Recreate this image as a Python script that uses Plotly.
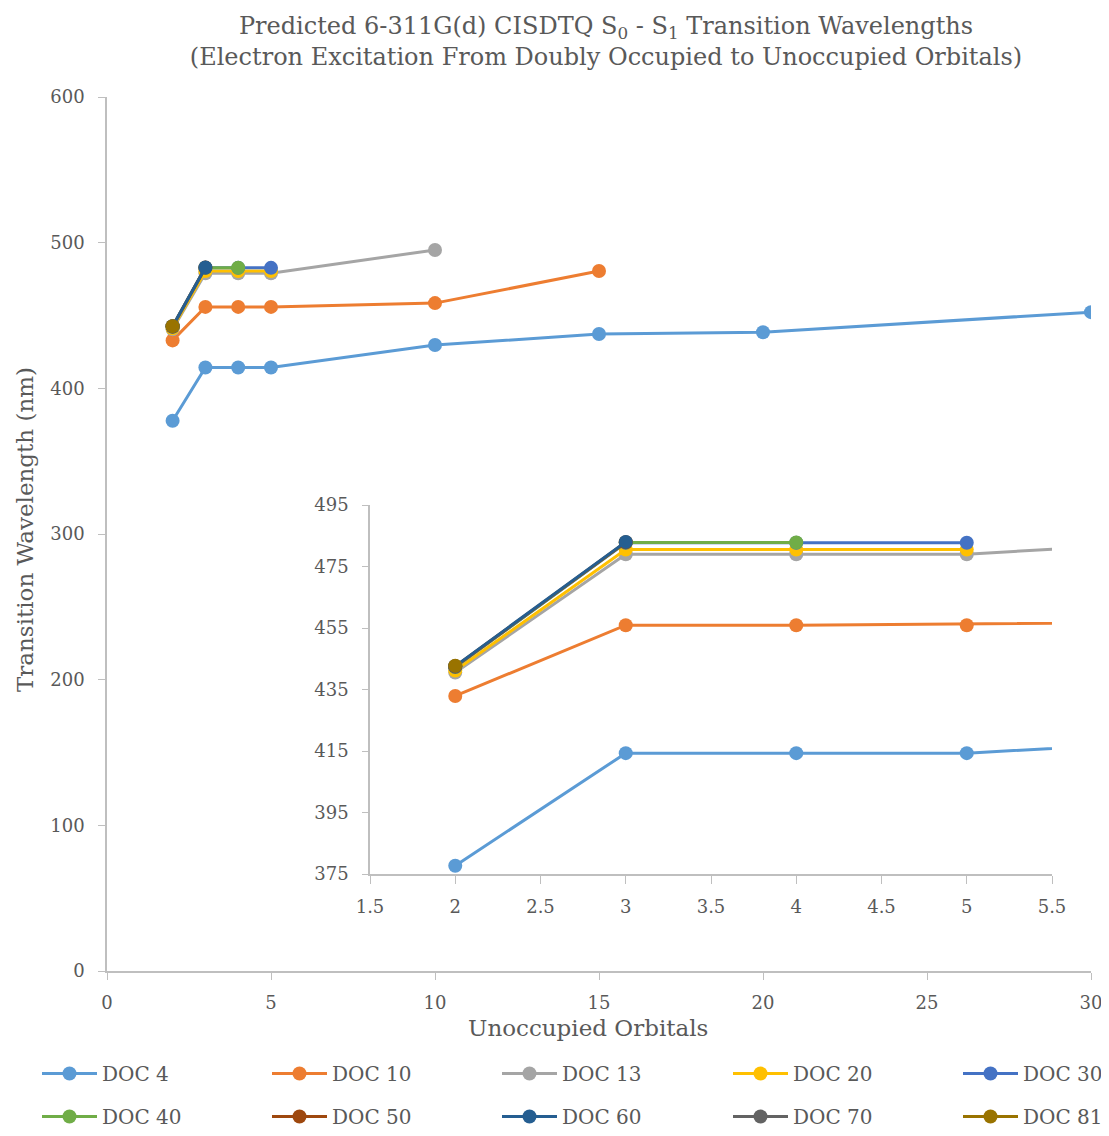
import plotly.graph_objects as go

series_names = ["DOC 4", "DOC 10", "DOC 13", "DOC 20", "DOC 30",
                "DOC 40", "DOC 50", "DOC 60", "DOC 70", "DOC 81"]
x_values = [
    [2, 3, 4, 5, 10, 15, 20, 30],
    [2, 3, 4, 5, 10, 15],
    [2, 3, 4, 5, 10],
    [2, 3, 4, 5],
    [2, 3, 4, 5],
    [2, 3, 4],
    [2, 3],
    [2, 3],
    [2],
    [2],
]
y_values = [
    [377.7, 414.3, 414.3, 414.3, 429.7, 437.3, 438.5, 452.3],
    [432.9, 455.9, 455.9, 455.9, 458.5, 480.5],
    [440.5, 479.0, 479.0, 479.0, 495.0],
    [441.2, 480.5, 480.5, 480.5],
    [442.3, 482.7, 482.7, 482.7],
    [442.4, 482.8, 482.8],
    [442.5, 482.9],
    [442.6, 483.0],
    [442.6],
    [442.7],
]
colors = ["#5B9BD5", "#ED7D31", "#A5A5A5", "#FFC000", "#4472C4",
          "#70AD47", "#9E480E", "#255E91", "#636363", "#997300"]

title_text = ("Predicted 6-311G(d) CISDTQ S<sub>0</sub> - S<sub>1</sub> Transition Wavelengths"
              "<br>(Electron Excitation From Doubly Occupied to Unoccupied Orbitals)")
x_title = "Unoccupied Orbitals"
y_title = "Transition Wavelength (nm)"

FONT = "DejaVu Serif"
TXT = "#595959"
OFF = 8                      # page body margin
W, H = 1109 - OFF, 1136 - OFF


def px(v):
    return (v - OFF) / W


def py(v):
    return 1 - (v - OFF) / H


# legend slots (page pixel positions: left of line; rows offset from bottom)
legend_cols = [42, 272, 502, 733, 963]
legend_row_bottoms = [43, 0]

fig = go.Figure()
for i, (name, xs, ys, c) in enumerate(zip(series_names, x_values, y_values, colors)):
    lg = "legend" if i == 0 else f"legend{i + 1}"
    fig.add_trace(go.Scatter(x=xs, y=ys, name=name, mode="lines+markers",
                             line=dict(color=c, width=3),
                             marker=dict(color=c, size=14),
                             legend=lg, xaxis="x", yaxis="y"))
for name, xs, ys, c in zip(series_names, x_values, y_values, colors):
    fig.add_trace(go.Scatter(x=xs, y=ys, name=name, mode="lines+markers",
                             line=dict(color=c, width=3),
                             marker=dict(color=c, size=14),
                             showlegend=False, xaxis="x2", yaxis="y2"))

axis_col = "#BFBFBF"
tick_font = dict(family=FONT, size=18, color=TXT)
common = dict(showline=True, linecolor=axis_col, linewidth=1.5, tickcolor=axis_col,
              showgrid=False, zeroline=False, tickfont=tick_font, automargin=False,
              ticks="outside")

layout = dict(
    width=W, height=H,
    margin=dict(l=0, r=0, t=0, b=0),
    paper_bgcolor="white", plot_bgcolor="rgba(0,0,0,0)",
    font=dict(family=FONT, color=TXT),
    title=dict(text=title_text, x=px(606), xanchor="center", y=py(34), yanchor="middle",
               font=dict(family=FONT, size=24, color=TXT)),
    xaxis=dict(domain=[px(107), px(1091)], range=[0, 30], dtick=5,
               ticklen=7, ticklabelstandoff=8, **common),
    yaxis=dict(domain=[py(971), py(97)], range=[0, 600], dtick=100,
               ticklen=7, ticklabelstandoff=10, **common),
    xaxis2=dict(domain=[px(370), px(1052)], range=[1.5, 5.5], dtick=0.5, tick0=1.5,
                anchor="y2", ticklen=8, ticklabelstandoff=8, **common),
    yaxis2=dict(domain=[py(874), py(505)], range=[375, 495], dtick=20, tick0=375,
                anchor="x2", ticklen=6, ticklabelstandoff=10, **common),
    showlegend=True,
    annotations=[
        dict(text=x_title, xref="paper", yref="paper", x=px(588), y=py(1028),
             xanchor="center", yanchor="middle", showarrow=False,
             font=dict(family=FONT, size=23, color=TXT)),
        dict(text=y_title, xref="paper", yref="paper", x=px(25), y=py(530),
             xanchor="center", yanchor="middle", showarrow=False, textangle=-90,
             font=dict(family=FONT, size=23, color=TXT)),
    ],
)
for i in range(len(series_names)):
    key = "legend" if i == 0 else f"legend{i + 1}"
    col = legend_cols[i % 5]
    rb = legend_row_bottoms[i // 5]
    layout[key] = dict(orientation="h", x=px(col - 5), xanchor="left",
                       y=rb / H, yanchor="bottom", itemwidth=55,
                       font=dict(family=FONT, size=20, color=TXT),
                       bgcolor="rgba(0,0,0,0)", borderwidth=0)

fig.update_layout(**layout)
fig.write_html("out.html")
